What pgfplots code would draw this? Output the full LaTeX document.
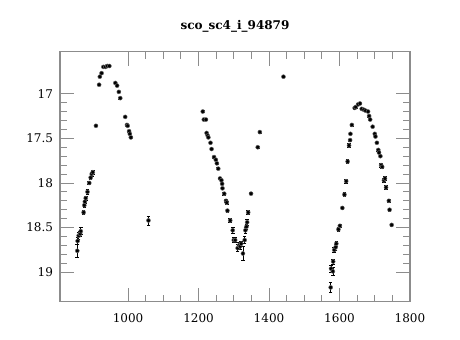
\documentclass[border=0pt]{standalone}
\usepackage{fontspec}
\setmainfont{DejaVu Serif}
\usepackage{pgfplots}
\usepackage{pgfplotstable}
\pgfplotsset{compat=1.18}
\pgfplotstableread{
x y e
856 18.76 0.07
857 18.65 0.04
860 18.59 0.04
864 18.57 0.03
866 18.54 0.04
874 18.33 0.02
876 18.25 0.02
877.5 18.21 0.02
880 18.17 0.02
885 18.10 0.03
890 18.00 0.02
894 17.94 0.02
897 17.90 0.02
900 17.88 0.02
909 17.36 0.01
918 16.90 0.01
920 16.81 0.01
925 16.77 0.01
930 16.70 0.01
936 16.70 0.01
941 16.69 0.01
947 16.69 0.01
964 16.88 0.01
969 16.91 0.01
974 16.98 0.01
978 17.05 0.01
992 17.26 0.01
997 17.35 0.01
999 17.36 0.01
1003 17.42 0.01
1005 17.45 0.01
1008 17.49 0.01
1058 18.42 0.05
1212 17.20 0.01
1215 17.29 0.01
1221 17.29 0.01
1223 17.44 0.01
1226 17.47 0.01
1228 17.49 0.01
1234 17.55 0.01
1237 17.62 0.01
1244 17.71 0.01
1249 17.74 0.01
1252 17.78 0.01
1256 17.84 0.01
1261 17.95 0.01
1265 17.97 0.01
1267 18.01 0.01
1268 18.06 0.01
1273 18.12 0.02
1278 18.20 0.02
1280 18.22 0.02
1282 18.31 0.02
1290 18.42 0.02
1297 18.53 0.03
1300 18.64 0.03
1304 18.64 0.03
1311 18.73 0.04
1315 18.70 0.03
1318 18.71 0.03
1321 18.68 0.03
1326 18.79 0.08
1331 18.64 0.04
1333 18.53 0.03
1336 18.49 0.03
1338 18.44 0.03
1341 18.33 0.02
1349 18.12 0.01
1368 17.60 0.01
1374 17.43 0.01
1441 16.81 0.01
1575 19.17 0.06
1576 18.96 0.04
1581 18.99 0.04
1582 18.88 0.03
1585 18.75 0.03
1589 18.72 0.03
1591 18.68 0.03
1597 18.52 0.02
1601 18.48 0.02
1608 18.28 0.02
1614 18.13 0.02
1619 17.98 0.02
1623 17.76 0.02
1627 17.58 0.02
1630 17.52 0.01
1631 17.45 0.01
1635 17.35 0.01
1643 17.16 0.01
1646 17.15 0.01
1653 17.12 0.01
1658 17.11 0.01
1663 17.17 0.01
1669 17.18 0.01
1674 17.19 0.01
1681 17.20 0.01
1684 17.25 0.01
1687 17.29 0.01
1694 17.37 0.01
1700 17.45 0.01
1702 17.48 0.01
1706 17.55 0.01
1710 17.63 0.01
1712 17.66 0.01
1716 17.70 0.01
1718 17.80 0.02
1721 17.82 0.02
1726 17.97 0.02
1729 17.95 0.02
1732 18.05 0.02
1740 18.20 0.02
1742 18.30 0.02
1748 18.47 0.02
}\lightcurve
\begin{document}
\begin{tikzpicture}
\useasboundingbox (-60bp,-38.3bp) rectangle (400bp,301.7bp);
\begin{axis}[
  at={(0,0)}, anchor=south west,
  scale only axis, width=350bp, height=250bp,
  xmin=807, xmax=1800, ymin=16.53, ymax=19.33, y dir=reverse,
  xtick={1000,1200,1400,1600,1800}, minor x tick num=3,
  ytick={17,17.5,18,18.5,19}, minor y tick num=4,
  tick align=inside, major tick length=14bp, minor tick length=7bp,
  tick style={color=black!45, line width=0.9bp},
  axis line style={black!45, line width=1.1bp},
  ticklabel style={font=\fontsize{12bp}{14bp}\selectfont},
  /pgf/number format/assume math mode=true,
  /pgf/number format/1000 sep={},
  xticklabel style={yshift=-8bp},
  yticklabel style={xshift=-3.5bp},
  title={sco\_sc4\_i\_94879},
  title style={font=\fontsize{12bp}{14bp}\selectfont\bfseries, at={(0.5,1)}, anchor=base, yshift=16.5bp},
]
\addplot[only marks, mark=*, mark size=2bp,
  mark options={fill=black, draw=black!60, line width=0.5bp},
  error bars/.cd, y dir=both, y explicit,
  error bar style={black, line width=0.6bp},
  error mark options={black, mark size=1.8bp, line width=0.6bp, rotate=90}]
  table[x=x, y=y, y error=e] {\lightcurve};
\end{axis}
\end{tikzpicture}
\end{document}
